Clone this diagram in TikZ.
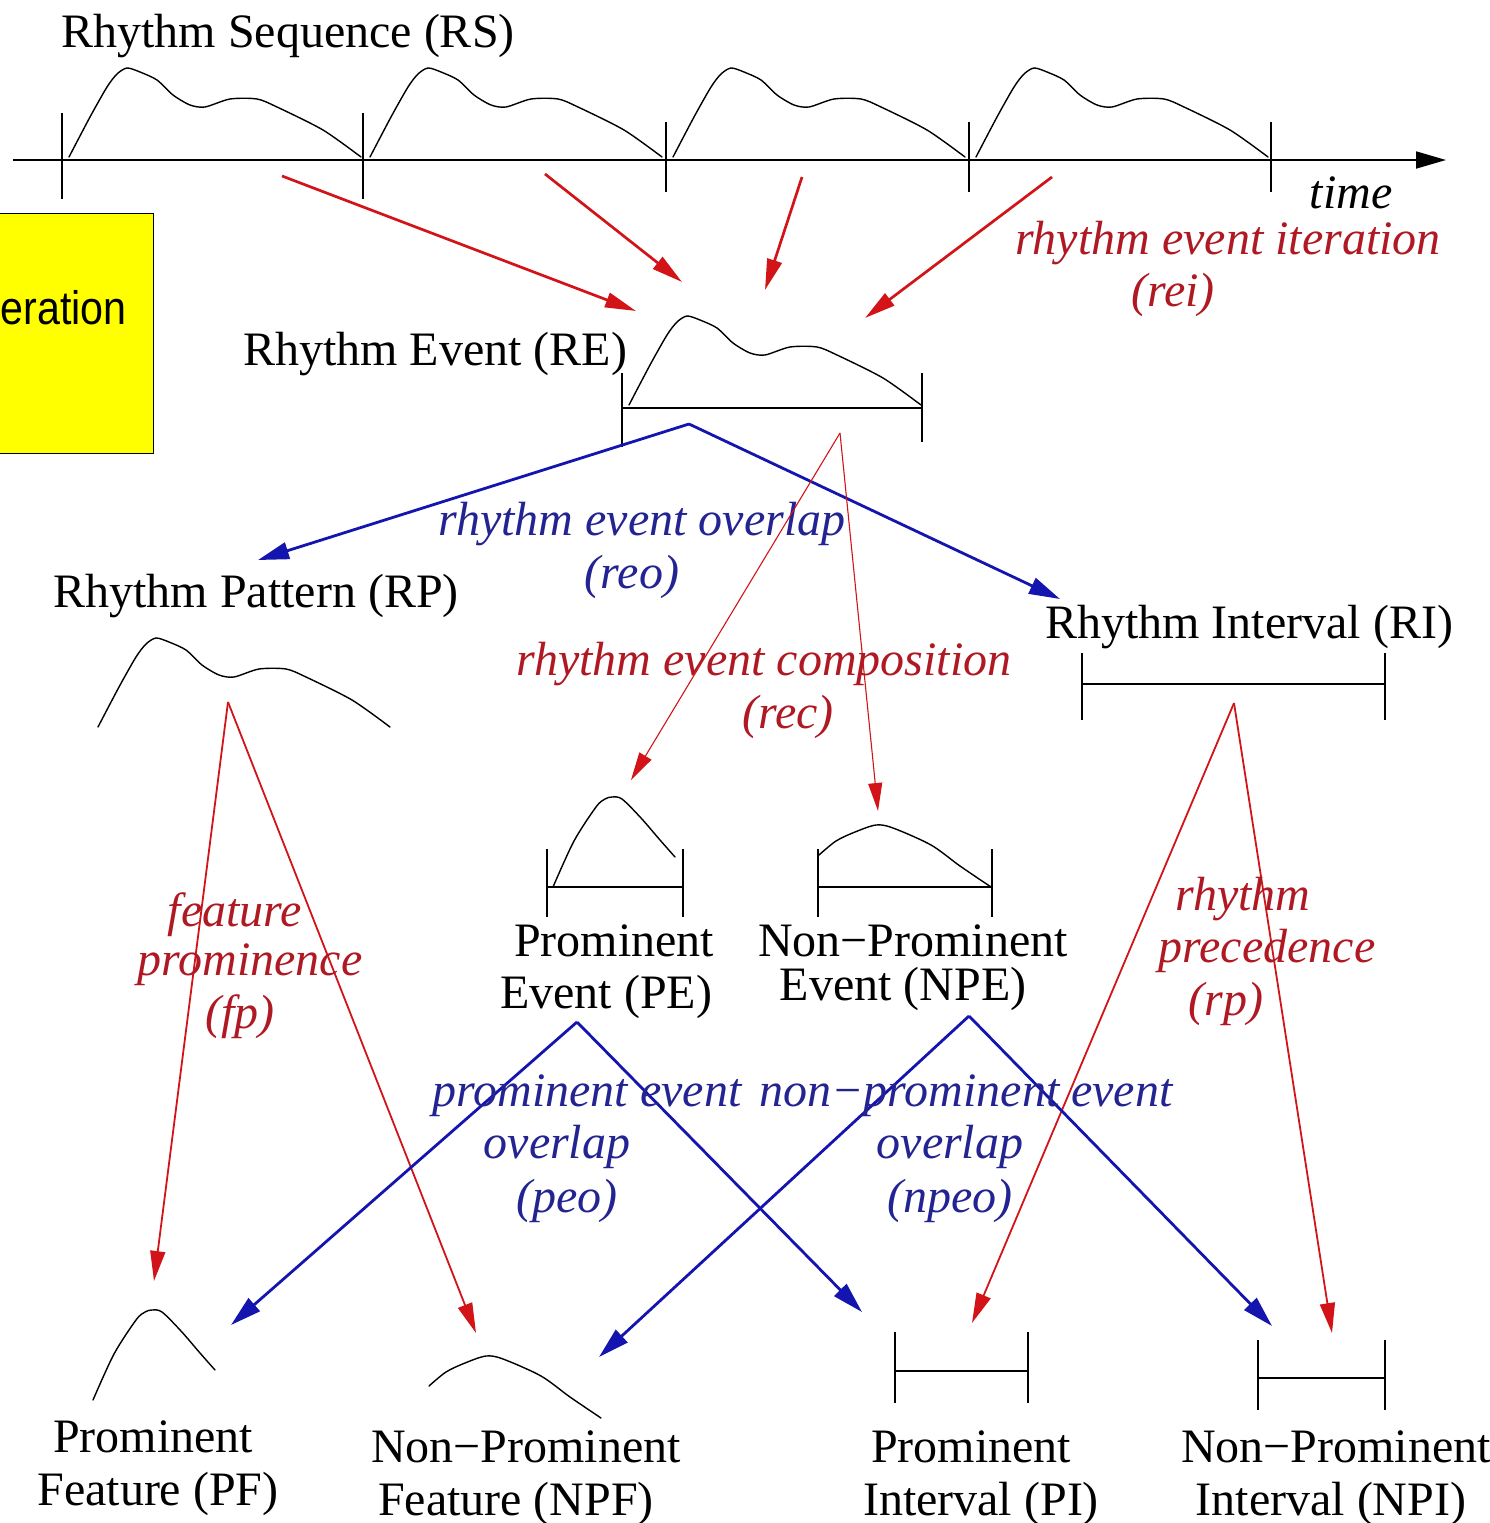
\documentclass[tikz,border=0pt]{standalone}
\usepackage{fontspec}
\setmainfont{Liberation Serif}
\newfontfamily\sansfam{Liberation Sans}
\usetikzlibrary{arrows.meta}
\definecolor{arrred}{RGB}{210,20,25}
\definecolor{txtred}{RGB}{175,25,35}
\definecolor{arrblue}{RGB}{20,20,175}
\definecolor{txtblue}{RGB}{35,35,145}
\definecolor{boxyellow}{RGB}{255,255,0}
\begin{document}
\begin{tikzpicture}[x=1pt,y=-1pt,
  txt/.style={font=\fontsize{48}{54}\selectfont, inner sep=0pt, anchor=base},
  itxt/.style={txt, font=\fontsize{48}{54}\selectfont\itshape},
  rtxt/.style={itxt, text=txtred},
  btxt/.style={itxt, text=txtblue},
  wave/.style={line width=1.4pt, black, line join=round, line cap=round},
  bar/.style={line width=1.6pt, black},
  rarr/.style={draw=arrred, line width=2.7pt, -{Triangle[length=31pt,width=15pt]}},
  rthin/.style={draw=arrred, line width=1.1pt, -{Triangle[length=28pt,width=14pt]}},
  rmid/.style={draw=arrred, line width=1.8pt, -{Triangle[length=30pt,width=15pt]}},
  barr/.style={draw=arrblue, line width=2.8pt, -{Triangle[length=31pt,width=17pt]}},
  pics/bigwave/.style={code={\draw[wave] plot[smooth, tension=0.45] coordinates {(7,-3) (28,-43) (45,-73) (55,-86) (65,-92) (78,-88) (95,-80) (111,-65) (128,-55) (143,-53) (168,-61) (195,-61) (215,-53) (261,-30) (299,-3)};}},
  pics/peakwave/.style={code={\draw[wave] plot[smooth, tension=0.5] coordinates {(-59,90) (-38,44) (-16,10) (-7,2) (0,0) (10,2) (29,21) (48,43) (63,60)};}},
  pics/flatwave/.style={code={\draw[wave] plot[smooth, tension=0.5] coordinates {(-57,30) (-40,16) (-21,7) (0,0) (17,3) (55,20) (84,41) (115,62)};}}
]
\useasboundingbox (0,0) rectangle (1490,1523);
\clip (0,0) rectangle (1490,1523);

% yellow box
\node[draw=black, line width=1pt, fill=boxyellow, minimum width=160pt, minimum height=240pt, anchor=north west, inner sep=0pt] (ybox) at (-7,213) {};
\node[anchor=base east, inner sep=0pt, font=\sansfam\fontsize{47}{50}\selectfont] (eration) at (127,324) {\scalebox{0.877}[1]{eration}};

% ---- Rhythm sequence
\node[txt] (rs) at (288,47) {Rhythm Sequence (RS)};
\coordinate (axL) at (13,160);
\coordinate (axR) at (1446,160);
\draw[line width=1.8pt, -{Triangle[length=30pt,width=17pt]}] (axL) -- (axR);
\draw[bar] (62,113) -- (62,199);
\draw[bar] (363,113) -- (363,199);
\draw[bar] (666,122) -- (666,192);
\draw[bar] (969,122) -- (969,192);
\draw[bar] (1271,122) -- (1271,192);
\pic at (62,160) {bigwave};
\pic at (363,160) {bigwave};
\pic at (666,160) {bigwave};
\pic at (969,160) {bigwave};
\node[itxt] (time) at (1351,208) {time};

% ---- rei arrows
\coordinate (reiS1) at (282,176);  \coordinate (reiT1) at (636,311);
\coordinate (reiS2) at (545,174);  \coordinate (reiT2) at (682,282);
\coordinate (reiS3) at (802,177);  \coordinate (reiT3) at (765,290);
\coordinate (reiS4) at (1052,177); \coordinate (reiT4) at (865,318);
\draw[rarr] (reiS1) -- (reiT1);
\draw[rarr] (reiS2) -- (reiT2);
\draw[rarr] (reiS3) -- (reiT3);
\draw[rarr] (reiS4) -- (reiT4);
\node[rtxt] (rei1) at (1228,254) {rhythm event iteration};
\node[rtxt] (rei2) at (1173,306) {(rei)};

% ---- Rhythm event
\node[txt] (re) at (435,365) {Rhythm Event (RE)};
\pic at (622,408) {bigwave};
\draw[bar] (622,408) -- (922,408);
\draw[bar] (622,373) -- (622,447);
\draw[bar] (922,373) -- (922,442);

% ---- reo
\coordinate (reoA) at (689,424);
\coordinate (reoL) at (258,560);
\coordinate (reoR) at (1060,599);
\draw[barr] (reoA) -- (reoL);
\draw[barr] (reoA) -- (reoR);
\node[btxt] (reo1) at (642,535) {rhythm event overlap};
\node[btxt] (reo2) at (632,588) {(reo)};

% ---- rec
\coordinate (recA) at (840,433);
\coordinate (recL) at (631,780);
\coordinate (recR) at (878,811);
\draw[rthin] (recA) -- (recL);
\draw[rthin] (recA) -- (recR);
\node[rtxt] (rec1) at (764,675) {rhythm event composition};
\node[rtxt] (rec2) at (788,728) {(rec)};

% ---- Rhythm pattern
\node[txt] (rp) at (256,607) {Rhythm Pattern (RP)};
\pic at (91,730) {bigwave};

% ---- Rhythm interval
\node[txt] (ri) at (1249,638) {Rhythm Interval (RI)};
\draw[bar] (1082,684) -- (1385,684);
\draw[bar] (1082,653) -- (1082,720);
\draw[bar] (1385,653) -- (1385,720);

% ---- PE / NPE
\pic at (612,797) {peakwave};
\draw[bar] (547,887) -- (683,887);
\draw[bar] (547,849) -- (547,917);
\draw[bar] (683,849) -- (683,917);
\node[txt] (pe1) at (614,956) {Prominent};
\node[txt] (pe2) at (606,1008) {Event (PE)};

\pic at (876,825) {flatwave};
\draw[bar] (818,887) -- (992,887);
\draw[bar] (818,849) -- (818,917);
\draw[bar] (992,849) -- (992,917);
\node[txt] (npe1) at (913,956) {Non−Prominent};
\node[txt] (npe2) at (903,1000) {Event (NPE)};

% ---- fp
\coordinate (fpA) at (228,702);
\coordinate (fpL) at (154,1281);
\coordinate (fpR) at (476,1333);
\draw[rmid] (fpA) -- (fpL);
\draw[rmid] (fpA) -- (fpR);
\node[rtxt] (fp1) at (235,926) {feature};
\node[rtxt] (fp2) at (250,975) {prominence};
\node[rtxt] (fp3) at (240,1028) {(fp)};

% ---- rp
\coordinate (rpA) at (1234,703);
\coordinate (rpL) at (972,1323);
\coordinate (rpR) at (1332,1333);
\draw[rmid] (rpA) -- (rpL);
\draw[rmid] (rpA) -- (rpR);
\node[rtxt] (rp1) at (1243,910) {rhythm};
\node[rtxt] (rp2) at (1267,962) {precedence};
\node[rtxt] (rp3) at (1226,1015) {(rp)};

% ---- peo
\coordinate (peoA) at (577,1022);
\coordinate (peoL) at (231,1325);
\coordinate (peoR) at (862,1312);
\draw[barr] (peoA) -- (peoL);
\draw[barr] (peoA) -- (peoR);
\node[btxt] (peo1) at (587,1106) {prominent event};
\node[btxt] (peo2) at (557,1158) {overlap};
\node[btxt] (peo3) at (567,1212) {(peo)};

% ---- npeo
\coordinate (npeoA) at (969,1016);
\coordinate (npeoL) at (599,1357);
\coordinate (npeoR) at (1272,1326);
\draw[barr] (npeoA) -- (npeoL);
\draw[barr] (npeoA) -- (npeoR);
\node[btxt] (npeo1) at (966,1106) {non−prominent event};
\node[btxt] (npeo2) at (950,1158) {overlap};
\node[btxt] (npeo3) at (950,1212) {(npeo)};

% ---- bottom row
\pic at (152,1310) {peakwave};
\node[txt] (pf1) at (153,1452) {Prominent};
\node[txt] (pf2) at (158,1505) {Feature (PF)};

\pic at (486,1356) {flatwave};
\node[txt] (npf1) at (526,1462) {Non−Prominent};
\node[txt] (npf2) at (516,1515) {Feature (NPF)};

\draw[bar] (895,1371) -- (1028,1371);
\draw[bar] (895,1332) -- (895,1403);
\draw[bar] (1028,1332) -- (1028,1403);
\node[txt] (pi1) at (971,1462) {Prominent};
\node[txt] (pi2) at (981,1515) {Interval (PI)};

\draw[bar] (1258,1378) -- (1385,1378);
\draw[bar] (1258,1340) -- (1258,1410);
\draw[bar] (1385,1340) -- (1385,1410);
\node[txt] (npi1) at (1336,1462) {Non−Prominent};
\node[txt] (npi2) at (1331,1515) {Interval (NPI)};
\end{tikzpicture}
\end{document}
